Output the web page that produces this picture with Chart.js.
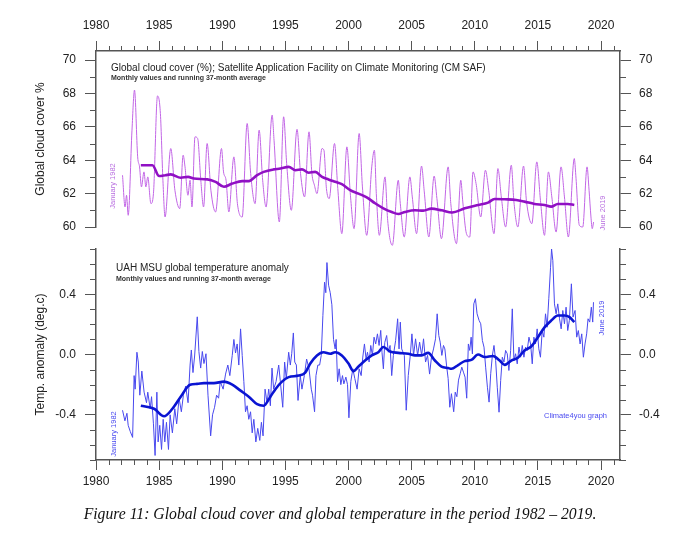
<!DOCTYPE html>
<html>
<head>
<meta charset="utf-8">
<script src="https://cdn.jsdelivr.net/npm/chart.js@4.4.1/dist/chart.umd.min.js"></script>
<style>
  body { margin: 0; background: #fff; }
  #wrap { position: relative; width: 680px; height: 558px; font-family: "Liberation Sans", Arial, sans-serif; }
  canvas { position: absolute; left: 0; top: 0; }
  .lbl { position: absolute; white-space: nowrap; transform: translateY(-50%); line-height: 1; }
  .vert { position: absolute; white-space: nowrap; line-height: 1; transform: translate(-50%, -50%) rotate(-90deg); }
  .title { font-size: 10px; color: #222; }
  .sub { font-size: 7px; font-weight: bold; color: #333; }
  .purple { font-size: 7.5px; color: #b86ee0; }
  .blue { font-size: 7.5px; color: #4a4af0; }
  #caption { position: absolute; left: 0; width: 680px; top: 505px; text-align: center;
             font-family: "Liberation Serif", "Times New Roman", serif; font-style: italic; font-size: 15.7px; color: #111; }
</style>
</head>
<body>
<div id="wrap">
  <canvas id="cloudChart" width="680" height="500"></canvas>
  <canvas id="tempChart" width="680" height="500"></canvas>

  <div class="lbl title" style="left:111px; top:68px;">Global cloud cover (%); Satellite Application Facility on Climate Monitoring (CM SAF)</div>
  <div class="lbl sub" style="left:111px; top:77px;">Monthly values and running 37-month average</div>
  <div class="vert purple" style="left:113px; top:186px;">January 1982</div>
  <div class="vert purple" style="left:603px; top:213px;">June 2019</div>

  <div class="lbl title" style="left:116px; top:268px;">UAH MSU global temperature anomaly</div>
  <div class="lbl sub" style="left:116px; top:278px;">Monthly values and running 37-month average</div>
  <div class="vert blue" style="left:114px; top:434px;">January 1982</div>
  <div class="vert blue" style="left:602px; top:318px;">June 2019</div>
  <div class="lbl blue" style="right:73px; top:416px;">Climate4you graph</div>

  <div id="caption">Figure 11: Global cloud cover and global temperature in the period 1982 – 2019.</div>
</div>

<script>
//Data

const yearTicks = [1980, 1985, 1990, 1995, 2000, 2005, 2010, 2015, 2020];
const cloudTicks = [60, 62, 64, 66, 68, 70];
const tempTicks = [-0.4, 0.0, 0.4];

// monthly cloud cover, read at peaks / troughs / shoulders
const cloudYears = [
  1982.1, 1982.3, 1982.42, 1982.55, 1982.85,
  1983.05, 1983.3, 1983.45, 1983.6, 1983.8, 1983.95,
  1984.1, 1984.35, 1984.55, 1984.87,
  1985.1, 1985.3, 1985.47, 1985.92,
  1986.25, 1986.63, 1986.9,
  1987.05, 1987.28, 1987.45, 1987.6, 1987.84,
  1988.05, 1988.3, 1988.52, 1988.8,
  1989.1, 1989.47, 1989.94,
  1990.1, 1990.3, 1990.52, 1990.92,
  1991.2, 1991.58, 1991.97,
  1992.25, 1992.6, 1992.92,
  1993.2, 1993.47, 1993.95,
  1994.1, 1994.52, 1994.86,
  1995.1, 1995.47, 1995.92,
  1996.2, 1996.52, 1996.87,
  1997.1, 1997.3, 1997.5, 1997.9,
  1998.05, 1998.25, 1998.47, 1998.89,
  1999.15, 1999.47, 1999.87,
  2000.15, 2000.44, 2000.84,
  2001.1, 2001.44, 2001.84,
  2002.05, 2002.2, 2002.44, 2002.89,
  2003.1, 2003.47, 2003.94,
  2004.1, 2004.41, 2004.86,
  2005.05, 2005.39, 2005.78,
  2006.0, 2006.36, 2006.78,
  2007.0, 2007.36, 2007.89,
  2008.1, 2008.55, 2008.89,
  2009.05, 2009.34, 2009.6, 2009.86,
  2010.1, 2010.47, 2010.84,
  2011.1, 2011.52, 2011.83,
  2012.1, 2012.44, 2012.89,
  2013.1, 2013.41, 2013.86,
  2014.1, 2014.52, 2014.91,
  2015.2, 2015.52, 2015.83,
  2016.1, 2016.44, 2016.83,
  2017.1, 2017.41, 2017.88,
  2018.0, 2018.28, 2018.55, 2018.89,
  2019.05, 2019.2, 2019.3, 2019.41
];
const cloudValues = [
  63.1, 61.2, 61.9, 60.7, 65.8,
  68.2, 64.2, 63.6, 62.4, 63.3, 62.4,
  63.0, 61.4, 62.0, 67.85,
  66.8, 62.8, 60.6, 64.7,
  62.2, 61.1, 64.3,
  63.6, 61.9, 62.8, 61.2, 65.4,
  65.3, 62.8, 61.2, 65.0,
  62.2, 60.9, 64.7,
  63.3, 62.8, 60.9, 64.2,
  61.4, 60.6, 66.2,
  63.2, 61.4, 65.8,
  62.8, 61.2, 66.7,
  65.2, 60.3, 66.6,
  63.8, 61.0, 65.85,
  63.2, 61.8, 65.7,
  63.2, 62.5, 62.0, 64.7,
  64.6, 62.3, 61.7, 65.0,
  62.3, 59.6, 64.8,
  61.9, 59.9, 65.6,
  62.4, 59.5, 63.6,
  64.6, 62.0, 59.5, 63.0,
  60.4, 58.9, 62.8,
  61.4, 59.4, 63.0,
  61.8, 59.6, 63.65,
  62.1, 59.4, 63.05,
  61.7, 59.3, 63.6,
  61.4, 59.0, 62.8,
  61.5, 59.6, 59.4, 63.3,
  62.6, 60.6, 63.4,
  62.2, 59.6, 63.5,
  61.8, 60.0, 63.7,
  61.5, 60.0, 63.65,
  61.5, 60.2, 63.9,
  61.6, 59.5, 63.3,
  61.8, 59.7, 63.6,
  61.8, 59.4, 64.1,
  63.1, 60.1, 60.0, 63.6,
  62.2, 60.6, 59.9, 60.3
];

// running 37-month average, cloud cover
const cloudAvgYears = [
  1983.55, 1984.47, 1985.0, 1985.5, 1985.92, 1986.71, 1987.29, 1987.76, 1988.82, 1989.47,
  1990.13, 1990.79, 1991.58, 1992.1, 1992.76, 1993.28, 1994.07, 1994.6, 1995.26, 1995.79,
  1996.31, 1996.84, 1997.36, 1997.9, 1998.41, 1998.94, 1999.47, 2000.13, 2000.79, 2001.44,
  2002.1, 2002.76, 2003.42, 2003.94, 2004.47, 2005.26, 2005.92, 2006.57, 2007.36, 2008.2,
  2009.21, 2010.26, 2011.05, 2011.57, 2012.36, 2013.28, 2013.94, 2014.73, 2015.52, 2016.05,
  2016.57, 2017.36, 2017.88
];
const cloudAvg = [
  63.7, 63.7, 63.05, 63.1, 63.15, 62.95, 63.0, 62.9, 62.85, 62.7,
  62.41, 62.6, 62.75, 62.75, 63.1, 63.3, 63.45, 63.5, 63.6, 63.4,
  63.45, 63.25, 63.3, 63.0, 62.85, 62.71, 62.57, 62.21, 62.0, 61.78,
  61.42, 61.12, 60.9, 60.78, 60.9, 61.0, 60.98, 61.1, 61.0, 60.87,
  61.12, 61.32, 61.46, 61.68, 61.66, 61.62, 61.52, 61.38, 61.32, 61.22,
  61.38, 61.38, 61.32
];

// monthly UAH MSU temperature anomaly
const tempYears = [
  1982.1, 1982.29, 1982.45, 1982.55, 1982.71, 1982.9,
  1983.02, 1983.1, 1983.24, 1983.35, 1983.47, 1983.63, 1983.81,
  1984.0, 1984.1, 1984.29, 1984.4, 1984.55, 1984.68, 1984.82, 1984.92,
  1985.05, 1985.19, 1985.32, 1985.45, 1985.58, 1985.74, 1985.87,
  1986.05, 1986.24, 1986.39, 1986.58, 1986.76, 1986.92,
  1987.1, 1987.29, 1987.45, 1987.55, 1987.68, 1987.81,
  1988.02, 1988.15, 1988.29, 1988.42, 1988.55, 1988.71, 1988.87,
  1989.08, 1989.23, 1989.39, 1989.55, 1989.71, 1989.84,
  1990.07, 1990.26, 1990.44, 1990.6, 1990.79, 1990.92,
  1991.05, 1991.18, 1991.31, 1991.45, 1991.58, 1991.71, 1991.84, 1991.97,
  1992.1, 1992.24, 1992.37, 1992.5, 1992.66, 1992.81, 1992.97,
  1993.1, 1993.23, 1993.39, 1993.55, 1993.68, 1993.81, 1993.94,
  1994.07, 1994.26, 1994.47, 1994.6, 1994.79, 1994.94,
  1995.07, 1995.26, 1995.39, 1995.5, 1995.63, 1995.74, 1995.87,
  1996.0, 1996.18, 1996.31, 1996.5, 1996.68, 1996.87,
  1997.05, 1997.15, 1997.31, 1997.42, 1997.57, 1997.71, 1997.84, 1997.97,
  1998.1, 1998.2, 1998.29, 1998.42, 1998.55, 1998.68, 1998.81, 1998.94,
  1999.02, 1999.13, 1999.26, 1999.39, 1999.52, 1999.63, 1999.79, 1999.92,
  2000.03, 2000.18, 2000.34, 2000.5, 2000.68, 2000.84,
  2001.0, 2001.13, 2001.26, 2001.39, 2001.5, 2001.63, 2001.76, 2001.89,
  2002.02, 2002.15, 2002.29, 2002.42, 2002.55, 2002.65, 2002.76, 2002.87,
  2003.02, 2003.15, 2003.29, 2003.42, 2003.55, 2003.73, 2003.89,
  2004.0, 2004.1, 2004.21, 2004.42, 2004.57, 2004.73, 2004.89,
  2005.02, 2005.15, 2005.31, 2005.47, 2005.63, 2005.79, 2005.94,
  2006.1, 2006.26, 2006.42, 2006.57, 2006.73, 2006.89,
  2007.02, 2007.15, 2007.26, 2007.39, 2007.52, 2007.63, 2007.76, 2007.89,
  2008.02, 2008.15, 2008.33, 2008.45, 2008.58, 2008.71, 2008.84, 2008.97,
  2009.1, 2009.23, 2009.36, 2009.49, 2009.6, 2009.71, 2009.81, 2009.92,
  2010.05, 2010.18, 2010.34, 2010.47, 2010.6, 2010.73, 2010.86,
  2011.0, 2011.13, 2011.26, 2011.39, 2011.52, 2011.65, 2011.78, 2011.92,
  2012.05, 2012.18, 2012.31, 2012.44, 2012.57, 2012.7, 2012.84, 2012.97,
  2013.1, 2013.23, 2013.36, 2013.5, 2013.63, 2013.76, 2013.89,
  2014.02, 2014.15, 2014.29, 2014.42, 2014.55, 2014.68, 2014.81, 2014.94,
  2015.07, 2015.2, 2015.34, 2015.47, 2015.6, 2015.73, 2015.86,
  2016.0, 2016.08, 2016.18, 2016.31, 2016.44, 2016.57, 2016.71, 2016.84, 2016.97,
  2017.1, 2017.23, 2017.36, 2017.49, 2017.65, 2017.78, 2017.94,
  2018.07, 2018.2, 2018.34, 2018.47, 2018.6, 2018.73, 2018.86, 2018.97,
  2019.1, 2019.23, 2019.34, 2019.4
];
const tempValues = [
  -0.37, -0.44, -0.39, -0.47, -0.51, -0.55,
  -0.14, -0.23, 0.015, -0.05, -0.27, -0.11, -0.25,
  -0.32, -0.25, -0.36, -0.28, -0.46, -0.67, -0.25, -0.58,
  -0.47, -0.63, -0.43, -0.58, -0.45, -0.63, -0.40,
  -0.52, -0.36, -0.46, -0.29, -0.38, -0.27,
  -0.21, -0.32, -0.07, 0.03, -0.12, -0.01,
  0.25, 0.02, -0.09, 0.02, -0.06, 0.005, -0.27,
  -0.54, -0.40, -0.35, -0.27, -0.29, -0.18,
  -0.23, -0.13, -0.07, -0.14, -0.006, 0.10,
  0.01, 0.07, -0.07, 0.17, -0.006, -0.18, -0.38, -0.34,
  -0.43, -0.38, -0.52, -0.43, -0.58, -0.49, -0.57,
  -0.45, -0.54, -0.23, -0.32, -0.23, -0.34, -0.09,
  -0.23, -0.18, -0.07, -0.18, -0.35, -0.05,
  -0.16, 0.015, -0.07, 0.005, 0.143, -0.05, -0.07,
  -0.305, -0.14, -0.23, -0.14, -0.03, -0.095,
  -0.23, -0.27, -0.38, -0.14, -0.07, -0.07, -0.006, 0.26,
  0.48, 0.41, 0.61, 0.46, 0.41, 0.33, 0.10, 0.037,
  0.10, -0.18, -0.095, -0.20, -0.14, -0.195, -0.15, -0.20,
  -0.42, -0.18, -0.095, -0.16, -0.23, -0.095,
  -0.14, -0.017, 0.07, -0.03, 0.015, -0.05, 0.06, -0.006,
  0.115, 0.07, 0.137, 0.06, 0.16, 0.015, -0.095, 0.08,
  0.126, 0.015, 0.06, -0.14, -0.006, 0.093, 0.237,
  0.037, 0.215, 0.037, -0.006, -0.37, -0.14, -0.006,
  0.137, -0.006, 0.104, -0.006, 0.082, -0.006, 0.104,
  -0.05, -0.006, -0.13, -0.017, 0.037, 0.104,
  0.27, 0.126, 0.082, -0.006, 0.06, 0.037, -0.07, -0.16,
  -0.35, -0.26, -0.38, -0.25, -0.28, -0.17, -0.128, -0.084,
  -0.117, -0.15, -0.29, 0.07, 0.027, 0.115, 0.004, 0.336,
  0.37, 0.27, 0.226, 0.204, 0.093, 0.049, -0.084,
  -0.217, -0.316, -0.128, -0.007, 0.06, -0.04, -0.217, -0.383,
  -0.172, -0.018, -0.05, 0.027, 0.005, -0.106, 0.027, 0.303,
  -0.04, 0.005, -0.062, 0.049, -0.018, 0.06, -0.018,
  0.049, 0.027, 0.115, 0.07, -0.062, 0.115, 0.07, 0.17,
  0.038, -0.018, 0.159, 0.115, 0.27, 0.181, 0.37,
  0.579, 0.70, 0.623, 0.336, 0.27, 0.336, 0.237, 0.17, 0.292,
  0.204, 0.314, 0.159, 0.226, 0.469, 0.248, 0.292,
  0.115, 0.159, 0.07, 0.137, -0.018, 0.07, 0.137, 0.237,
  0.215, 0.314, 0.215, 0.347
];

// running 37-month average, temperature
const tempAvgYears = [
  1983.55, 1984.6, 1985.39, 1986.05, 1986.71, 1987.45, 1988.0, 1988.55, 1989.34, 1990.13,
  1990.79, 1991.45, 1992.1, 1992.76, 1993.28, 1993.81, 1994.21, 1994.73, 1995.26, 1996.05,
  1996.57, 1996.97, 1997.5, 1998.02, 1998.55, 1998.94, 1999.47, 2000.0, 2000.39, 2000.79,
  2001.31, 2001.84, 2002.36, 2002.76, 2003.29, 2003.94, 2004.73, 2005.26, 2005.79, 2006.31,
  2006.84, 2007.36, 2007.89, 2008.15, 2008.68, 2009.2, 2009.73, 2010.26, 2010.79, 2011.44,
  2011.97, 2012.36, 2012.89, 2013.41, 2013.94, 2014.47, 2015.0, 2015.52, 2016.05, 2016.57,
  2017.1, 2017.5, 2017.88
];
const tempAvg = [
  -0.34, -0.36, -0.41, -0.36, -0.28, -0.20, -0.195, -0.19, -0.19, -0.18,
  -0.20, -0.24, -0.28, -0.33, -0.34, -0.28, -0.23, -0.18, -0.15, -0.14,
  -0.12, -0.06, -0.006, 0.015, 0.005, 0.015, -0.006, -0.06, -0.11, -0.08,
  -0.04, -0.006, 0.015, 0.05, 0.02, 0.011, 0.005, -0.006, -0.006, 0.011,
  -0.04, -0.08, -0.09, -0.095, -0.07, -0.044, -0.036, 0.0, -0.017, -0.01,
  -0.04, -0.069, -0.04, -0.022, 0.026, 0.053, 0.115, 0.18, 0.225, 0.259,
  0.259, 0.248, 0.215
];

//Styles

const axisColor = '#555';
const fontFamily = '"Liberation Sans", Arial, sans-serif';

//Functions

function points(xs, ys) {
  return xs.map((x, i) => ({ x: x, y: ys[i] }));
}

function minorValues(from, to, step, skip) {
  const out = [];
  for (let v = from; v <= to + 1e-9; v += step) {
    const r = Math.round(v * 10) / 10;
    if (!skip.some(s => Math.abs(s - r) < 1e-6)) out.push(r);
  }
  return out;
}

// small ticks between the labelled ones, placed with the chart's own scales
const minorTicks = {
  id: 'minorTicks',
  afterDraw(chart, args, opts) {
    const ctx = chart.ctx;
    ctx.save();
    ctx.strokeStyle = axisColor;
    ctx.lineWidth = 1;
    opts.list.forEach(item => {
      const scale = chart.scales[item.id];
      item.values.forEach(v => {
        const p = Math.round(scale.getPixelForValue(v)) + 0.5;
        ctx.beginPath();
        if (scale.isHorizontal()) {
          const y0 = scale.position === 'top' ? scale.bottom : scale.top;
          const dir = scale.position === 'top' ? -1 : 1;
          ctx.moveTo(p, y0);
          ctx.lineTo(p, y0 + dir * 5);
        } else {
          const x0 = scale.position === 'left' ? scale.right : scale.left;
          const dir = scale.position === 'left' ? -1 : 1;
          ctx.moveTo(x0, p);
          ctx.lineTo(x0 + dir * 6, p);
        }
        ctx.stroke();
      });
    });
    ctx.restore();
  }
};

function xAxis(position, size, pad) {
  return {
    type: 'linear',
    position: position,
    min: 1980,
    max: 2021.5,
    afterBuildTicks: s => { s.ticks = yearTicks.map(v => ({ value: v })); },
    afterFit: s => { s.height = size; },
    grid: { drawOnChartArea: false, tickLength: 10, color: axisColor },
    border: { color: axisColor, width: 1.5 },
    ticks: { color: '#222', font: { size: 12, family: fontFamily }, padding: pad, maxRotation: 0,
             callback: v => String(v) }
  };
}

function yAxis(position, min, max, tickList, fmt, title) {
  const left = position === 'left';
  const axis = {
    type: 'linear',
    position: position,
    min: min,
    max: max,
    afterBuildTicks: s => { s.ticks = tickList.map(v => ({ value: v })); },
    afterFit: s => { s.width = left ? 96 : 60; },
    grid: { drawOnChartArea: false, tickLength: 11, color: axisColor },
    border: { color: axisColor, width: 1.5 },
    ticks: { color: '#222', font: { size: 12, family: fontFamily }, padding: left ? 9 : 8, callback: fmt }
  };
  if (title) {
    axis.title = { display: true, text: title, color: '#222', font: { size: 12, family: fontFamily },
                   padding: { top: 33, bottom: 0 } };
  }
  return axis;
}

function baseOptions(padding, scales, minorList) {
  return {
    responsive: false,
    animation: false,
    layout: { padding: padding },
    plugins: { legend: { display: false }, tooltip: { enabled: false }, minorTicks: { list: minorList } },
    elements: { point: { radius: 0 } },
    scales: scales
  };
}

const minorYears = minorValues(1981, 2021, 1, yearTicks);

// top panel: cloud cover
new Chart(document.getElementById('cloudChart'), {
  type: 'line',
  data: {
    datasets: [
      { data: points(cloudAvgYears, cloudAvg), borderColor: '#9010c4', borderWidth: 2.6, order: 0, clip: false,
        cubicInterpolationMode: 'monotone' },
      { data: points(cloudYears, cloudValues), borderColor: '#c266e6', borderWidth: 1, order: 1, clip: false,
        cubicInterpolationMode: 'monotone' }
    ]
  },
  options: baseOptions(
    { top: 0, bottom: 273, left: 0, right: 0 },
    {
      x: xAxis('top', 51, 8),
      y: yAxis('left', 60, 70.54, cloudTicks, v => String(v), 'Global cloud cover %'),
      yR: yAxis('right', 60, 70.54, cloudTicks, v => String(v))
    },
    [
      { id: 'x', values: minorYears },
      { id: 'y', values: [61, 63, 65, 67, 69] },
      { id: 'yR', values: [61, 63, 65, 67, 69] }
    ]
  ),
  plugins: [minorTicks]
});

// bottom panel: temperature anomaly
const minorTemp = minorValues(-0.7, 0.7, 0.1, tempTicks);

new Chart(document.getElementById('tempChart'), {
  type: 'line',
  data: {
    datasets: [
      { data: points(tempAvgYears, tempAvg), borderColor: '#0a14d2', borderWidth: 2.6, order: 0,
        cubicInterpolationMode: 'monotone' },
      { data: points(tempYears, tempValues), borderColor: '#4848ee', borderWidth: 1, order: 1 }
    ]
  },
  options: baseOptions(
    { top: 249, bottom: 0, left: 0, right: 0 },
    {
      x: xAxis('bottom', 40, 4),
      y: yAxis('left', -0.7, 0.7, tempTicks, v => v.toFixed(1), 'Temp. anomaly (deg.c)'),
      yR: yAxis('right', -0.7, 0.7, tempTicks, v => v.toFixed(1))
    },
    [
      { id: 'y', values: minorTemp },
      { id: 'yR', values: minorTemp },
      { id: 'x', values: minorYears }
    ]
  ),
  plugins: [minorTicks]
});
</script>
</body>
</html>
